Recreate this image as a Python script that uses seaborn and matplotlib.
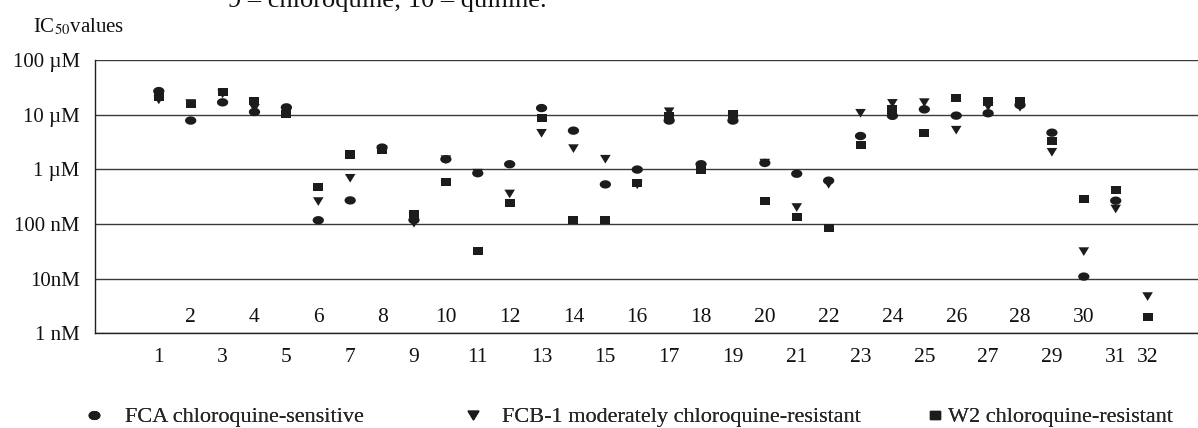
import numpy as np
import pandas as pd
import matplotlib
matplotlib.use("Agg")
import matplotlib.pyplot as plt
from matplotlib.path import Path
from matplotlib.lines import Line2D
from matplotlib.ticker import FixedLocator, NullLocator
import seaborn as sns

# --- data (IC50 in µM) ---
compounds = list(range(1, 33))
fca = [27, 7.8, 16.8, 11.2, 13.6, 0.117, 0.27, 2.5, 0.118, 1.53, 0.85, 1.24, 13.2, 5.1, 0.53, 0.99,
       7.8, 1.24, 7.8, 1.31, 0.83, 0.62, 4.07, 9.5, 12.5, 9.6, 10.6, 15, 4.68, 0.0109, 0.267, np.nan]
fcb1 = [18.6, 16, 24, 13, 11, 0.257, 0.685, 2.3, 0.103, 1.5, 0.85, 0.354, 4.56, 2.39, 1.53, 0.52,
        11.3, 1.05, 9, 1.3, 0.2, 0.53, 10.6, 16.1, 16.6, 5.2, 14, 13.6, 2.05, 0.0312, 0.188, 0.0047]
w2 = [21, 15.7, 25.8, 18, 10.2, 0.48, 1.88, 2.26, 0.15, 0.586, 0.032, 0.239, 8.6, 0.118, 0.118, 0.56,
      9.5, 0.97, 10.3, 0.264, 0.136, 0.0845, 2.79, 12.5, 4.68, 19.9, 17.3, 17.3, 3.34, 0.283, 0.419, 0.002]

strains = ["FCA chloroquine-sensitive",
           "FCB-1 moderately chloroquine-resistant",
           "W2 chloroquine-resistant"]
y_ticks = [1e-3, 1e-2, 1e-1, 1, 10, 100]
y_tick_labels = ["1 nM", "10nM", "100 nM", "1 µM", "10 µM", "100 µM"]
header = "9 – chloroquine; 10 – quinine."

df = pd.concat([
    pd.DataFrame({"compound": compounds, "ic50": vals, "strain": name})
    for name, vals in zip(strains, [fca, fcb1, w2])
]).dropna()

# --- marker shapes ---
t = np.linspace(0, 2 * np.pi, 41)
ellipse = Path(np.column_stack([1.35 * np.cos(t), np.sin(t)]), closed=True)
rect = Path([[-1.2, -1], [1.2, -1], [1.2, 1], [-1.2, 1], [-1.2, -1]], closed=True)
tri = Path([[-1.1, 0.9], [1.1, 0.9], [0, -0.9], [-1.1, 0.9]], closed=True)
markers = dict(zip(strains, [ellipse, tri, rect]))
sizes = dict(zip(strains, [66, 58, 52]))
ink = "#1c1c1c"
palette = {s: ink for s in strains}

sns.set_style("white")
plt.rcParams["font.family"] = ["Liberation Serif", "DejaVu Serif"]
plt.rcParams["mathtext.fontset"] = "stix"

fig = plt.figure(figsize=(11.98, 4.28), dpi=100)
W, H = 1198, 428
ax = fig.add_axes([95 / W, 1 - 333.3 / H, (W - 95) / W, (333.3 - 60) / H])

sns.scatterplot(data=df, x="compound", y="ic50", hue="strain", style="strain", size="strain",
                markers=markers, palette=palette, sizes=sizes, linewidth=0, legend=False,
                ax=ax, zorder=3)

ax.set_yscale("log")
ax.set_ylim(1e-3, 1e2)
ax.set_xlim(-1, 33.58)
ax.yaxis.set_major_locator(FixedLocator(y_ticks))
ax.yaxis.set_minor_locator(NullLocator())
ax.set_yticklabels(y_tick_labels, fontsize=15, color="#111111")
ax.xaxis.set_major_locator(FixedLocator(list(range(-1, 34))))
ax.xaxis.set_minor_locator(NullLocator())
ax.set_xticklabels([])
ax.tick_params(axis="both", direction="out", length=5, width=1, color="#222222")
ax.tick_params(axis="y", pad=6)
ax.set_xlabel("")
ax.set_ylabel("")

ax.grid(axis="y", color="#3a3a3a", lw=1)
ax.grid(axis="x", visible=False)
sns.despine(ax=ax, top=True, right=True)
for s in ["left", "bottom"]:
    ax.spines[s].set_color("#222222")
    ax.spines[s].set_linewidth(1)

# category labels: odd below the axis, even (up to 30) above it
xt = ax.get_xaxis_transform()
for c in compounds:
    above = c % 2 == 0 and c < 32
    ax.text(c, 0.058 if above else -0.087, str(c), transform=xt, ha="center", va="center",
            fontsize=15.5, color="#111111", clip_on=False)

fig.text(33 / W, 1 - 32 / H, r"IC$_{\rm 50}$values", fontsize=15, color="#111111", va="baseline")
# caption line cut off at the top edge, as in the source figure
fig.text(228 / W, 1 - 7 / H, header, fontsize=19, color="#111111", va="baseline")

# legend: one entry per strain, placed along the bottom row
fs = 16
em = fs * 100 / 72
marker_x = [94, 473, 935]
text_x = [125, 502, 948]
for s, mx, tx in zip(strains, marker_x, text_x):
    h = Line2D([], [], ls="none", marker=markers[s], color=ink, markersize=7.5)
    leg = fig.legend([h], [s], loc="center left", bbox_to_anchor=((mx - 0.5 * em) / W, 1 - 417 / H),
                     frameon=False, fontsize=fs, handlelength=1.0,
                     handletextpad=(tx - mx - 0.5 * em) / em, borderpad=0, borderaxespad=0)
    fig.add_artist(leg)

fig.savefig("out.png", dpi=100)
